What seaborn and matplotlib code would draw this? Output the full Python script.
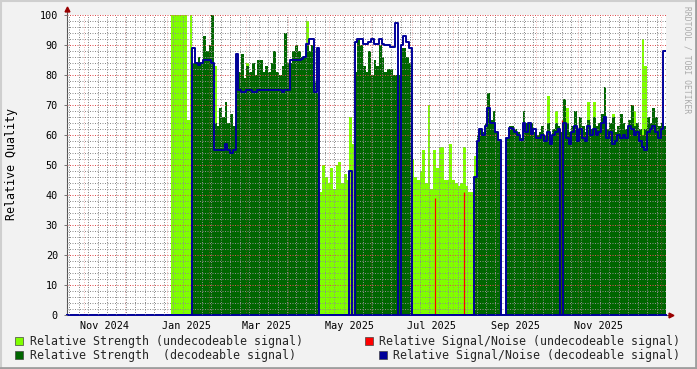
import numpy as np
import pandas as pd
import matplotlib
matplotlib.use("Agg")
import matplotlib.pyplot as plt
from matplotlib.patches import Rectangle
from matplotlib.lines import Line2D
import seaborn as sns

n = np.nan

# ---------------- data (one sample every 2 days, starting 2025-01-04) ----------------
start_date = "2025-01-04"
step = "2D"

strength_undecodeable = [
    100, 100, 100, 100, 100, 100, 65, 100,
    n, n, n, n, n, n, n, n,
    83,
    n, n, n, n, n, n, n, n, n, n, n,
    84,
    n, n, n, n, n, n, n, n, n, n, n, n, n, n, n, n, n, n, n, n, n,
    98,
    n, n, n, n,
    41, 50, 46, 44, 49, 42, 50, 51, 44, 47, 45, 66, 57,
    n, n, n, n, n, n, n, n, n, n, n, n, n, n, n, n, n, n, n, n, n,
    52, 46, 45, 48, 55, 44, 70, 42, 55, 49, 56, 56, 45, 45, 57, 45, 44, 43, 44, 56, 43, 41, 41,
    53,
    n, n, n, n, n, n, n, n, n, n, n, n, n, n, n, n, n, n, n, n, n, n, n, n, n, n,
    73, n, n, 68, n, n, n, 69, n, n, n, n, n, n, n, 71, n, 71,
    n, n, n, n, n, n, 67, n, n, n, n, n, n, n, 68, n, n, 92, 83,
    n, n, n, n, n, n, n,
]

strength_decodeable = [
    n, n, n, n, n, n, n, n,
    84, 84, 86, 84, 93, 88, 90, 100,
    64, 63, 69, 66, 71, 64, 67, 63,
    86, 81, 87, 79, 83, 81, 84, 80, 85, 85, 81, 83, 81, 84, 88, 81, 80, 83, 94, 84,
    84, 88, 90, 88, 86, 86, 90, 88, 90, 78, 74,
    n, n, n, n, n, n, n, n, n, n, n, n, n,
    81, 92, 90, 83, 81, 88, 80, 85, 83, 90, 86, 81, 82, 82, 80, 80, 80, 89, 89, 86, 84,
    n, n, n, n, n, n, n, n, n, n, n, n, n, n, n, n, n, n, n, n, n, n, n,
    46,
    60, 62, 61, 64, 74, 65, 68, 61, 58,
    n, n,
    59, 63, 63, 62, 61, 59, 68, 64, 64, 64, 61, 60,
    61, 63, 60, 64, 59, 62, 64, 63, 61, 72, 64, 61, 63, 68, 62, 66, 63, 61, 65, 62,
    66, 63, 64, 67, 76, 62, 64, 66, 61, 63, 67, 64, 62, 65, 70, 63, 64, 62, 60, 62,
    66, 64, 69, 66, 63, 64, 63,
]

snr_undecodeable = [
    0, 0, 0, 0, 0, 0, 0, 0, 0, 0, 0, 0, 0, 0, 0, 0, 0, 0, 0, 0,
    0, 0, 0, 0, 0, 0, 0, 0, 0, 0, 0, 0, 0, 0, 0, 0, 0, 0, 0, 0,
    0, 0, 0, 0, 0, 0, 0, 0, 0, 0, 0, 0, 0, 0, 0, 0, 0, 0, 0, 0,
    0, 0, 0, 0, 0, 0, 48, 0, 0, 0, 0, 0, 0, 0, 0, 0, 0, 0, 0, 0,
    0, 0, 0, 0, 0, 0, 0, 0, 0, 0, 0, 0, 0, 0, 0, 0, 0, 39, 0, 0,
    0, 0, 0, 0, 0, 0, 0, 0, 41, 0, 0, 0, 0, 0, 0, 0, 0, 0, 0, 0,
    0, 0, 0, 0, 0, 0, 0, 0, 0, 0, 0, 0, 0, 0, 0, 0, 0, 0, 0, 0,
    0, 0, 0, 0, 65, 0, 0, 0, 0, 0, 0, 0, 0, 0, 0, 0, 0, 0, 0, 0,
    0, 0, 0, 0, 0, 0, 0, 0, 0, 0, 0, 0, 0, 0, 0, 0, 0, 0, 0, 0,
    0, 0, 0,
]

snr_decodeable = [
    0, 0, 0, 0, 0, 0, 0, 0,
    89, 84, 83.5, 84, 85, 85, 85, 84,
    55, 55, 55, 55, 57, 55, 54, 55,
    87, 75, 74.5, 74.5, 75, 75, 74.5, 74.5, 75, 75, 75, 75, 75, 75, 75, 75, 75, 74.5, 75, 75,
    85, 85, 85, 85, 85.5, 86, 90.5, 92, 92, 74.5, 89,
    0, 0, 0, 0, 0, 0, 0, 0, 0, 0, 0, 48, 0,
    91, 92, 92, 90.5, 90.5, 91, 92, 90.5, 90.5, 92, 90.5, 90, 90, 89.5, 89.5, 97.5, 0, 90, 93, 91, 89,
    0, 0, 0, 0, 0, 0, 0, 0, 0, 0, 0, 0, 0, 0, 0, 0, 0, 0, 0, 0, 0, 0, 0,
    46, 58, 62, 60, 63, 69, 64, 64, 61, 58.5,
    0, 0,
    59, 62.5, 62, 61, 60, 58.5, 64, 61, 64, 60.5, 62, 59,
    59, 60, 58, 61, 57, 60, 61, 62, 0, 64, 59, 57, 61, 63, 58, 62, 59, 58, 63, 60,
    62, 60, 61, 64, 66, 59, 61, 57, 58, 60, 59, 60, 59, 63, 62, 60, 61, 58, 56, 55,
    61, 62, 63, 61, 59, 62, 88,
]

y_ticks = [0, 10, 20, 30, 40, 50, 60, 70, 80, 90, 100]
x_label_dates = ["2024-11-16", "2025-01-16", "2025-03-16", "2025-05-16",
                 "2025-07-16", "2025-09-16", "2025-11-16"]
x_labels = ["Nov 2024", "Jan 2025", "Mar 2025", "May 2025",
            "Jul 2025", "Sep 2025", "Nov 2025"]
x_range = ["2024-10-19 11:00", "2026-01-04 13:00"]
y_title = "Relative Quality"
legend_labels = [
    "Relative Strength (undecodeable signal)",
    "Relative Strength  (decodeable signal)",
    "Relative Signal/Noise (undecodeable signal)",
    "Relative Signal/Noise (decodeable signal)",
]
watermark = "RRDTOOL / TOBI OETIKER"

# ---------------- colours ----------------
C_UNDEC = "#80ff00"
C_DEC = "#006600"
C_RED = "#ff0000"
C_BLUE = "#000099"
BG = "#f2f2f2"

# ---------------- build frames ----------------
N = len(strength_decodeable)
assert len(strength_undecodeable) == N and len(snr_decodeable) == N and len(snr_undecodeable) == N
edges = pd.date_range(start_date, periods=N + 1, freq=step)
centers = edges[:-1] + (edges[1] - edges[0]) / 2

def stepvals(v):
    a = np.nan_to_num(np.asarray(v, dtype=float), nan=0.0)
    return np.append(a, a[-1])

df_blue = pd.DataFrame({"date": edges, "value": stepvals(snr_decodeable)})

sns.set_theme(style="white")
plt.rcParams["font.family"] = ["DejaVu Sans Mono"]

fig = plt.figure(figsize=(6.97, 3.69), dpi=100, facecolor=BG)
W, H = 697.0, 369.0
ax = fig.add_axes([67 / W, 54 / H, 599 / W, 300 / H])
ax.set_facecolor("white")

# areas
ax.fill_between(edges, 0, stepvals(strength_undecodeable), step="post",
                color=C_UNDEC, linewidth=0, zorder=1)
ax.fill_between(edges, 0, stepvals(strength_decodeable), step="post",
                color=C_DEC, linewidth=0, zorder=1.2)

# grid
ax.set_ylim(0, 100)
ax.set_xlim(pd.Timestamp(x_range[0]), pd.Timestamp(x_range[1]))
ax.set_yticks(y_ticks)
ax.set_yticks(np.arange(0, 101, 2), minor=True)
ax.set_xticks(pd.to_datetime(x_label_dates), x_labels)
weeks = pd.date_range("2024-10-21", "2026-01-05", freq="7D")
ax.set_xticks(weeks, minor=True)
minor_kw = dict(color=(0.55, 0.55, 0.55, 0.28), linewidth=0.72, linestyle=(0, (1, 1.5)))
major_kw = dict(color=(0.87, 0.31, 0.31, 0.38), linewidth=0.72, linestyle=(0, (1, 1.5)))
ax.yaxis.grid(True, which="minor", **minor_kw, zorder=2)
ax.yaxis.grid(True, which="major", **major_kw, zorder=2.1)
ax.xaxis.grid(True, which="minor", **minor_kw, zorder=2)
ax.xaxis.grid(False, which="major")
for m in pd.date_range("2024-11-01", "2026-01-01", freq="MS"):
    ax.axvline(m, **major_kw, zorder=2.1)
ax.set_axisbelow(False)

# lines
sns.lineplot(data=df_blue, x="date", y="value", ax=ax, color=C_BLUE,
             drawstyle="steps-post", linewidth=1.4, estimator=None, zorder=4)
red = np.asarray(snr_undecodeable, dtype=float)
mask = red > 0
ax.vlines(centers[mask], 0, red[mask], color=C_RED, linewidth=0.9, zorder=3.5)

ax.set_xlabel("")
ax.set_ylabel("")

# axes styling
for s in ["top", "right"]:
    ax.spines[s].set_visible(False)
ax.spines["left"].set_color("#555555")
ax.spines["left"].set_linewidth(0.8)
ax.spines["bottom"].set_color(C_BLUE)
ax.spines["bottom"].set_linewidth(1.4)
ax.tick_params(axis="y", which="major", length=2.5, width=0.7, color="#777777",
               pad=4, labelsize=7.3, labelcolor="black", left=True)
ax.tick_params(axis="y", which="minor", length=0)
ax.tick_params(axis="x", which="both", length=0, pad=4, labelsize=7.3, labelcolor="black")

# arrows
ax.add_line(Line2D([0, 0], [1, 1.017], transform=ax.transAxes, color="#555555",
                   linewidth=0.8, clip_on=False))
ax.add_line(Line2D([1, 1.006], [0, 0], transform=ax.transAxes, color="#555555",
                   linewidth=0.8, clip_on=False))
ax.plot([0], [1.02], marker="^", markersize=3.5, color="#990000", transform=ax.transAxes,
        clip_on=False, zorder=6)
ax.plot([1.008], [0], marker=">", markersize=3.5, color="#990000", transform=ax.transAxes,
        clip_on=False, zorder=6)

# title texts
fig.text(12 / W, 1 - 164 / H, y_title, rotation=90, ha="center", va="center",
         fontsize=8.4, color="black")
fig.text(687 / W, 1 - 60 / H, watermark, rotation=270, ha="center", va="center",
         fontsize=5.8, color="#aaaaaa")

# legend
def box(x, y, c):
    fig.patches.append(Rectangle((x / W, 1 - (y + 8) / H), 8 / W, 8 / H,
                                 transform=fig.transFigure, facecolor=c,
                                 edgecolor="#444444", linewidth=0.5))

box(15, 337, C_UNDEC)
fig.text(30 / W, 1 - 341 / H, legend_labels[0], ha="left", va="center", fontsize=8.4)
box(15, 351, C_DEC)
fig.text(30 / W, 1 - 355 / H, legend_labels[1], ha="left", va="center", fontsize=8.4)
box(365, 337, C_RED)
fig.text(680 / W, 1 - 341 / H, legend_labels[2], ha="right", va="center", fontsize=8.4)
box(379, 351, C_BLUE)
fig.text(680 / W, 1 - 355 / H, legend_labels[3], ha="right", va="center", fontsize=8.4)

# frame
fig.add_artist(Line2D([0, 1], [1 - 1 / H, 1 - 1 / H], transform=fig.transFigure, color="#cfcfcf", linewidth=1.5))
fig.add_artist(Line2D([1 / W, 1 / W], [0, 1], transform=fig.transFigure, color="#cfcfcf", linewidth=1.5))
fig.add_artist(Line2D([0, 1], [1.5 / H, 1.5 / H], transform=fig.transFigure, color="#9e9e9e", linewidth=2))
fig.add_artist(Line2D([1 - 1.5 / W, 1 - 1.5 / W], [0, 1], transform=fig.transFigure, color="#9e9e9e", linewidth=2))

fig.savefig("out.png", dpi=100, facecolor=BG)
